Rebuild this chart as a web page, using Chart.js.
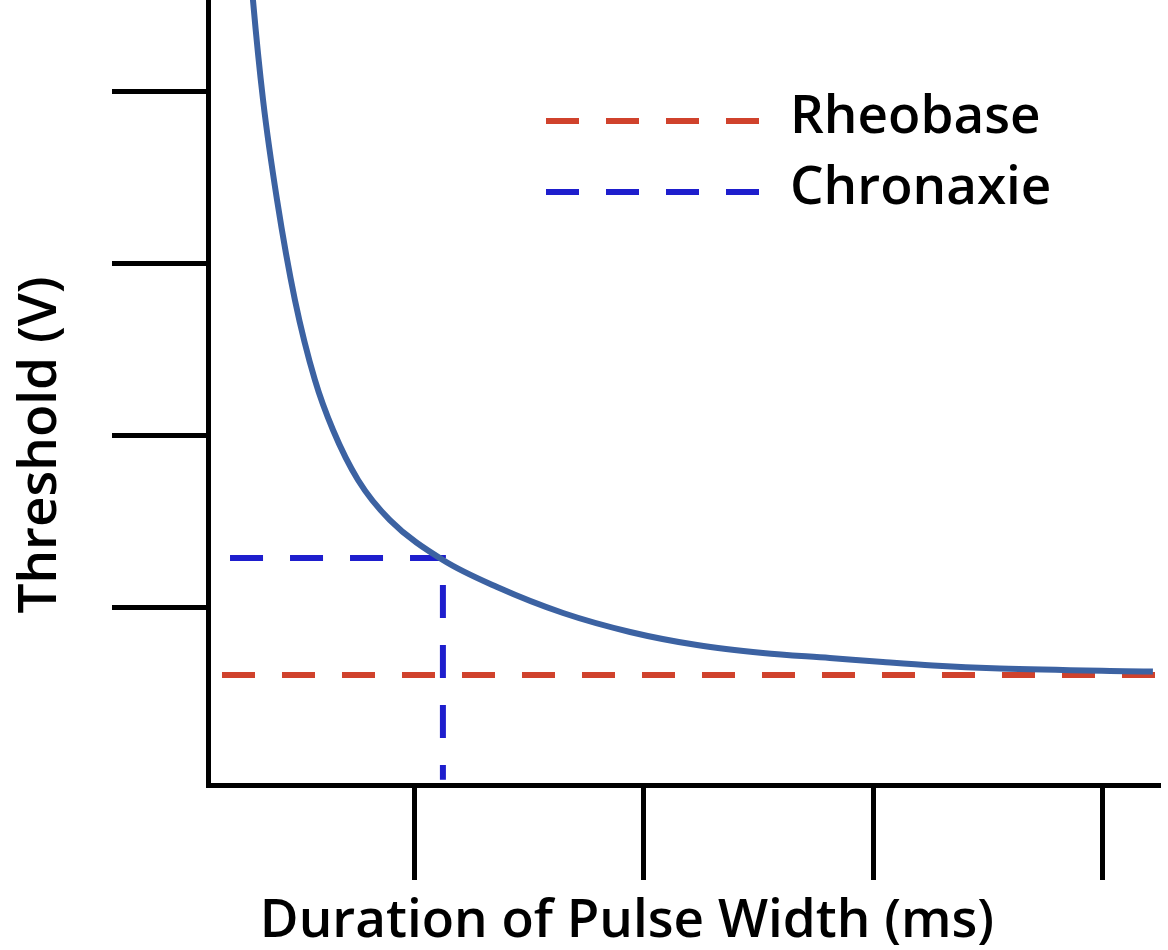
<!DOCTYPE html>
<html>
<head>
<meta charset="utf-8">
<script src="https://cdn.jsdelivr.net/npm/chart.js@4.4.1/dist/chart.umd.min.js"></script>
<style>
    html, body { margin: 0; padding: 0; background: #fff; }
    #wrap { width: 1168px; height: 950px; }
</style>
</head>
<body>
<div id="wrap"><canvas id="strengthDuration"></canvas></div>
<script>
// --- Dados ---
const curveX = [0.28, 0.296, 0.340, 0.401, 0.479, 0.566, 0.645, 0.754, 0.893, 1.124, 1.360, 1.648, 1.940, 2.232, 2.519, 2.811, 3.042, 3.260, 3.552, 4.219];
const curveY = [4.80, 4.53, 3.949, 3.368, 2.787, 2.323, 2.032, 1.742, 1.509, 1.277, 1.120, 0.969, 0.859, 0.783, 0.737, 0.708, 0.684, 0.664, 0.647, 0.629];

const rheobaseX = [0.161, 4.24];
const rheobaseY = [0.609, 0.609];

const chronaxieX = [0.196, 1.124, 1.124];
const chronaxieY = [1.289, 1.289, 0.0];

const xTicks = [1, 2, 3, 4];
const yTicks = [1, 2, 3, 4];

const legendLabels = ['Rheobase', 'Chronaxie'];
const xTitle = 'Duration of Pulse Width (ms)';
const yTitle = 'Threshold (V)';

const FONT = '600 53px "Open Sans", sans-serif';

function toPoints(xs, ys) {
    return xs.map((x, i) => ({ x: x, y: ys[i] }));
}

// Legenda desenhada dentro da área do gráfico
const dashLegend = {
    id: 'dashLegend',
    afterDatasetsDraw(chart, args, opts) {
        const ctx = chart.ctx;
        ctx.save();
        opts.items.forEach((item, i) => {
            const ds = chart.data.datasets[item.dataset];
            const y = opts.top + i * opts.rowGap;
            ctx.strokeStyle = ds.borderColor;
            ctx.lineWidth = ds.borderWidth;
            ctx.setLineDash(ds.borderDash);
            ctx.beginPath();
            ctx.moveTo(opts.left, y);
            ctx.lineTo(opts.left + opts.lineWidth, y);
            ctx.stroke();
            ctx.setLineDash([]);
            ctx.fillStyle = '#000';
            ctx.font = FONT;
            ctx.textBaseline = 'alphabetic';
            ctx.textAlign = 'left';
            ctx.fillText(ds.label, opts.textX, y + opts.baselineShift);
        });
        ctx.restore();
    }
};

// Títulos dos eixos
const axisTitles = {
    id: 'axisTitles',
    afterDraw(chart, args, opts) {
        const ctx = chart.ctx;
        ctx.save();
        ctx.fillStyle = '#000';
        ctx.font = FONT;
        ctx.textAlign = 'center';
        ctx.textBaseline = 'alphabetic';
        ctx.fillText(opts.x.text, opts.x.cx, opts.x.baseline);
        ctx.translate(opts.y.baseline, opts.y.cy);
        ctx.rotate(-Math.PI / 2);
        ctx.fillText(opts.y.text, 0, 0);
        ctx.restore();
    }
};

const ctx = document.getElementById('strengthDuration').getContext('2d');

const chart = new Chart(ctx, {
    type: 'line',
    data: {
        datasets: [
            {
                label: 'Curve',
                data: toPoints(curveX, curveY),
                borderColor: 'rgb(60, 98, 162)',
                borderWidth: 6,
                pointRadius: 0,
                cubicInterpolationMode: 'monotone',
                fill: false
            },
            {
                label: legendLabels[0],
                data: toPoints(rheobaseX, rheobaseY),
                borderColor: 'rgb(208, 66, 44)',
                borderWidth: 6,
                borderDash: [33, 27],
                pointRadius: 0,
                fill: false
            },
            {
                label: legendLabels[1],
                data: toPoints(chronaxieX, chronaxieY),
                borderColor: 'rgb(30, 30, 205)',
                borderWidth: 6,
                borderDash: [33, 27],
                pointRadius: 0,
                tension: 0,
                fill: false
            }
        ]
    },
    options: {
        responsive: true,
        maintainAspectRatio: false,
        animation: false,
        layout: {
            padding: { left: 112, right: 8, top: 0, bottom: 70 }
        },
        scales: {
            x: {
                type: 'linear',
                min: 0.1,
                max: 4.25,
                afterBuildTicks: (scale) => { scale.ticks = xTicks.map(v => ({ value: v })); },
                ticks: { display: false },
                grid: {
                    drawOnChartArea: false,
                    drawTicks: true,
                    tickLength: 95,
                    tickWidth: 5,
                    tickColor: '#000'
                },
                border: { display: true, color: '#000', width: 5 }
            },
            y: {
                type: 'linear',
                min: -0.03,
                max: 4.53,
                afterBuildTicks: (scale) => { scale.ticks = yTicks.map(v => ({ value: v })); },
                ticks: { display: false },
                grid: {
                    drawOnChartArea: false,
                    drawTicks: true,
                    tickLength: 96,
                    tickWidth: 5,
                    tickColor: '#000'
                },
                border: { display: true, color: '#000', width: 5 }
            }
        },
        plugins: {
            legend: { display: false },
            tooltip: { enabled: false },
            dashLegend: {
                items: [{ dataset: 1 }, { dataset: 2 }],
                left: 546,
                lineWidth: 215,
                top: 121,
                rowGap: 71,
                textX: 790,
                baselineShift: 12
            },
            axisTitles: {
                x: { text: xTitle, cx: 627, baseline: 937 },
                y: { text: yTitle, cy: 445, baseline: 56 }
            }
        }
    },
    plugins: [dashLegend, axisTitles]
});
</script>
</body>
</html>
